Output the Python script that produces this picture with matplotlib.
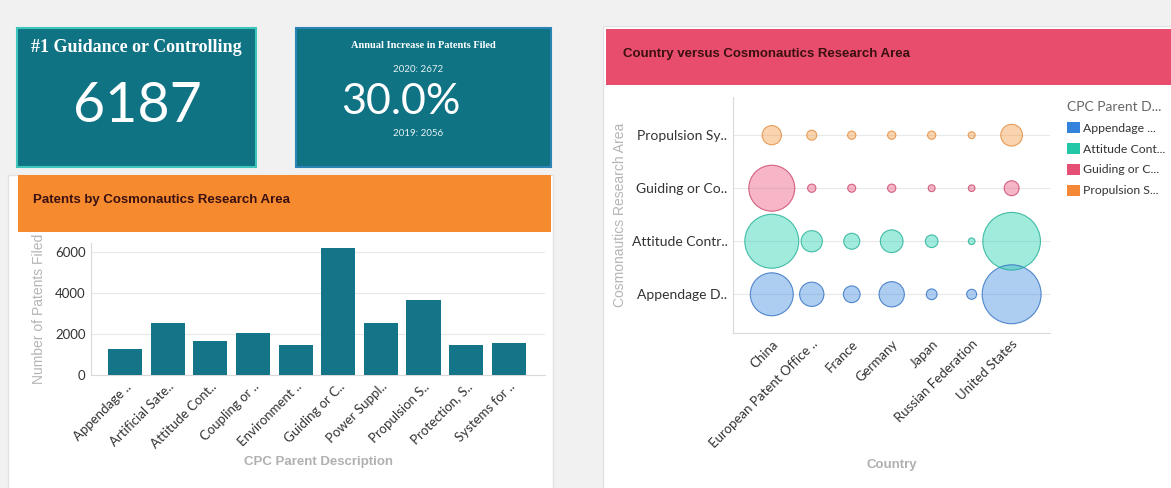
import matplotlib.pyplot as plt
from matplotlib.patches import Rectangle, Patch

# KPI cards
top_area = 'Guidance or Controlling'
top_count = 6187
patents_2020 = 2672
patents_2019 = 2056

# Patents by research area (bar chart)
areas = ['Appendage ..', 'Artificial Sate..', 'Attitude Cont..', 'Coupling or ..',
         'Environment ..', 'Guiding or C..', 'Power Suppl..', 'Propulsion S..',
         'Protection, S..', 'Systems for ..']
patents = [1290, 2540, 1660, 2050, 1450, 6187, 2530, 3670, 1470, 1580]

# Country versus research area (bubble chart)
countries = ['China', 'European Patent Office ..', 'France', 'Germany', 'Japan',
             'Russian Federation', 'United States']
bubble_areas = ['Appendage D..', 'Attitude Contr..', 'Guiding or Co..', 'Propulsion Sy..']
legend_labels = ['Appendage ...', 'Attitude Cont...', 'Guiding or C...', 'Propulsion S...']
appendage = [462, 148, 70, 160, 29, 25, 870]
attitude = [729, 113, 64, 129, 40, 11, 832]
guiding = [529, 17, 16, 17, 12, 11, 56]
propulsion = [93, 25, 17, 17, 17, 12, 118]

teal = '#0f7384'
face_cols = ['#4a90e2', '#2fd3b5', '#ec5f84', '#f5a04f']
edge_cols = ['#2f6fc0', '#1fae94', '#c94468', '#e08a3a']
legend_cols = ['#3382dc', '#22c7a8', '#e64f74', '#f48836']

fig = plt.figure(figsize=(11.71, 4.88), dpi=100)
fig.patch.set_facecolor('#f1f1f1')

# background canvas in pixel coordinates
bg = fig.add_axes([0, 0, 1, 1])
bg.set_xlim(0, 1171)
bg.set_ylim(488, 0)
bg.axis('off')

bg.add_patch(Rectangle((8, 175), 545, 320, fc='white', ec='#e2e2e2', lw=1))
bg.add_patch(Rectangle((603, 26), 572, 470, fc='white', ec='#e2e2e2', lw=1))
bg.add_patch(Rectangle((17, 28), 239, 139, fc=teal, ec='#3ec6bd', lw=1.5))
bg.add_patch(Rectangle((296, 28), 255, 139, fc=teal, ec='#2b84b3', lw=1.5))

bg.text(136, 48, '#1 ' + top_area, family='Liberation Serif', weight='bold',
        size=13, color='white', ha='center', va='center')
bg.text(137, 107, str(top_count), family='Lato', size=40, color='white',
        ha='center', va='center')
bg.text(423, 45, 'Annual Increase in Patents Filed', family='Liberation Serif',
        weight='bold', size=7.5, color='white', ha='center', va='center')
bg.text(418, 69, f'2020: {patents_2020}', family='Lato', size=7, color='#e8f2f4',
        ha='center', va='center')
pct = (patents_2020 - patents_2019) / patents_2019 * 100
bg.text(401, 102, f'{pct:.1f}%', family='Lato', size=31, color='white',
        ha='center', va='center')
bg.text(418, 133, f'2019: {patents_2019}', family='Lato', size=7, color='#e8f2f4',
        ha='center', va='center')

# headers drawn above the chart axes
fig.add_artist(Rectangle((18, 175), 533, 57, fc='#f68a2f', ec='none',
                         transform=bg.transData, zorder=5))
fig.add_artist(Rectangle((606, 29), 570, 56, fc='#e84d6d', ec='none',
                         transform=bg.transData, zorder=5))
fig.text(33, 200, 'Patents by Cosmonautics Research Area', transform=bg.transData,
         family='Liberation Sans', weight='bold', size=9.5, color='#3a1010',
         va='center', zorder=6)
fig.text(623, 54, 'Country versus Cosmonautics Research Area', transform=bg.transData,
         family='Liberation Sans', weight='bold', size=9.5, color='#3a1010',
         va='center', zorder=6)

# bar chart
ax = fig.add_axes([91 / 1171, (488 - 375) / 488, (545 - 91) / 1171, (375 - 243) / 488])
ax.bar(range(len(areas)), patents, width=0.8, color='#137587', zorder=3)
ax.set_xlim(-0.8, 9.85)
ax.set_ylim(0, 6450)
ax.set_yticks([0, 2000, 4000, 6000])
ax.set_xticks(range(len(areas)))
ax.set_xticklabels(areas, rotation=45, ha='right', rotation_mode='anchor')
ax.tick_params(length=0, labelsize=9.5, labelcolor='#333333', pad=4)
for lbl in ax.get_xticklabels() + ax.get_yticklabels():
    lbl.set_family('Lato')
ax.yaxis.grid(True, color='#e8e8e8', lw=0.8)
for s in ['top', 'right']:
    ax.spines[s].set_visible(False)
for s in ['left', 'bottom']:
    ax.spines[s].set_color('#d9d9d9')
ax.set_ylabel('Number of Patents Filed', family='Liberation Sans', size=10,
              color='#b5b5b5', labelpad=6)
ax.set_xlabel('CPC Parent Description', family='Liberation Sans', weight='bold',
              size=9.5, color='#b0b0b0', labelpad=4)

# bubble chart
bx = fig.add_axes([733 / 1171, (488 - 333) / 488, (1050 - 733) / 1171, (333 - 97) / 488])
series = [appendage, attitude, guiding, propulsion]
for i, vals in enumerate(series):
    bx.scatter(range(len(countries)), [i] * len(countries), s=[v * 2.07 for v in vals],
               c=face_cols[i], alpha=0.45, edgecolors='none', zorder=3, clip_on=False)
    bx.scatter(range(len(countries)), [i] * len(countries), s=[v * 2.07 for v in vals],
               facecolors='none', edgecolors=edge_cols[i], linewidths=0.8, alpha=0.8,
               zorder=4, clip_on=False)
bx.set_xlim(-0.97, 6.96)
bx.set_ylim(-0.73, 3.72)
bx.set_yticks(range(len(bubble_areas)))
bx.set_yticklabels(bubble_areas)
bx.set_xticks(range(len(countries)))
bx.set_xticklabels(countries, rotation=45, ha='right', rotation_mode='anchor')
bx.tick_params(length=0, labelsize=9.5, labelcolor='#333333')
bx.tick_params(axis='y', labelsize=10, pad=4)
for lbl in bx.get_xticklabels() + bx.get_yticklabels():
    lbl.set_family('Lato')
bx.yaxis.grid(True, color='#e8e8e8', lw=0.8)
for s in ['top', 'right']:
    bx.spines[s].set_visible(False)
for s in ['left', 'bottom']:
    bx.spines[s].set_color('#d9d9d9')
bx.set_ylabel('Cosmonautics Research Area', family='Liberation Sans', size=10,
              color='#b5b5b5', labelpad=3)
bx.set_xlabel('Country', family='Liberation Sans', weight='bold', size=9.5,
              color='#b0b0b0', labelpad=6)

handles = [Patch(fc=c, ec='none') for c in legend_cols]
leg = fig.legend(handles, legend_labels, title='CPC Parent D...', loc='upper left',
                 bbox_to_anchor=(1056 / 1171, 1 - 90 / 488), frameon=False,
                 handlelength=1.1, handleheight=1.0, handletextpad=0.2,
                 labelspacing=0.75, prop={'family': 'Lato', 'size': 8.8},
                 alignment='left')
leg.get_title().set_family('Lato')
leg.get_title().set_size(10)
leg.get_title().set_color('#666666')
for t in leg.get_texts():
    t.set_color('#333333')

fig.savefig('out.png', dpi=100, facecolor=fig.get_facecolor())
